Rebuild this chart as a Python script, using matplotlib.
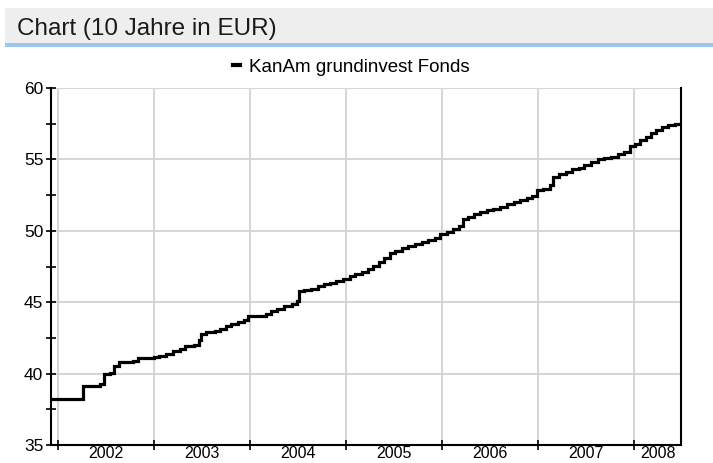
import pandas as pd
import matplotlib
matplotlib.use("Agg")
import matplotlib.pyplot as plt
from matplotlib.patches import Rectangle
from matplotlib.lines import Line2D
from matplotlib.ticker import MultipleLocator

# --- data ---
dates = [
    "2001-12-06", "2002-04-05", "2002-06-10", "2002-06-25", "2002-07-20", "2002-08-01",
    "2002-08-20", "2002-10-15", "2002-11-01", "2003-01-01", "2003-01-20", "2003-02-15",
    "2003-03-15", "2003-04-10", "2003-05-01", "2003-06-01", "2003-06-20", "2003-07-01",
    "2003-07-20", "2003-08-20", "2003-09-10", "2003-10-01", "2003-10-20", "2003-11-15",
    "2003-12-10", "2003-12-25", "2004-01-15", "2004-03-01", "2004-03-20", "2004-04-15",
    "2004-05-10", "2004-06-10", "2004-06-28", "2004-07-05", "2004-07-25", "2004-08-20",
    "2004-09-15", "2004-10-10", "2004-11-01", "2004-11-25", "2004-12-20", "2005-01-15",
    "2005-02-05", "2005-03-01", "2005-03-25", "2005-04-15", "2005-05-05", "2005-05-25",
    "2005-06-15", "2005-07-05", "2005-08-01", "2005-08-25", "2005-09-20", "2005-10-15",
    "2005-11-10", "2005-12-05", "2005-12-25", "2006-01-20", "2006-02-10", "2006-03-05",
    "2006-03-20", "2006-04-10", "2006-05-01", "2006-05-25", "2006-06-20", "2006-07-15",
    "2006-08-10", "2006-09-05", "2006-09-30", "2006-10-25", "2006-11-20", "2006-12-10",
    "2006-12-28", "2007-01-20", "2007-02-15", "2007-02-28", "2007-03-20", "2007-04-15",
    "2007-05-10", "2007-06-05", "2007-06-25", "2007-07-20", "2007-08-15", "2007-09-10",
    "2007-10-05", "2007-10-30", "2007-11-25", "2007-12-15", "2008-01-05", "2008-01-25",
    "2008-02-15", "2008-03-05", "2008-03-25", "2008-04-15", "2008-05-10", "2008-06-05",
    "2008-06-27",
]
values = [
    38.25, 39.10, 39.25, 40.00, 40.05, 40.55,
    40.80, 40.90, 41.10, 41.15, 41.25, 41.40,
    41.55, 41.75, 41.90, 42.00, 42.35, 42.80,
    42.90, 43.00, 43.10, 43.30, 43.45, 43.60,
    43.75, 44.00, 44.05, 44.20, 44.40, 44.55,
    44.70, 44.90, 45.10, 45.75, 45.85, 45.95,
    46.10, 46.25, 46.35, 46.50, 46.65, 46.80,
    47.00, 47.10, 47.30, 47.55, 47.85, 48.10,
    48.45, 48.60, 48.80, 48.95, 49.10, 49.20,
    49.35, 49.50, 49.75, 49.95, 50.15, 50.35,
    50.85, 51.00, 51.15, 51.30, 51.45, 51.55,
    51.70, 51.85, 52.00, 52.15, 52.30, 52.45,
    52.85, 52.95, 53.20, 53.80, 54.00, 54.10,
    54.30, 54.40, 54.60, 54.80, 55.00, 55.10,
    55.20, 55.40, 55.55, 55.95, 56.10, 56.35,
    56.60, 56.85, 57.05, 57.25, 57.40, 57.47,
    57.47,
]
years = [2002, 2003, 2004, 2005, 2006, 2007, 2008]
series_name = "KanAm grundinvest Fonds"
title = "Chart (10 Jahre in EUR)"

x = pd.to_datetime(dates)
xmin, xmax = x[0], x[-1]

plt.rcParams["font.family"] = ["Liberation Sans", "DejaVu Sans"]

fig = plt.figure(figsize=(7.13, 4.63), dpi=100)

# --- header bar ---
fig.patches.append(Rectangle((5 / 713, 1 - 43 / 463), 1, 35 / 463, transform=fig.transFigure,
                             facecolor="#eeeeee", edgecolor="none", zorder=0))
fig.patches.append(Rectangle((5 / 713, 1 - 46.5 / 463), 1, 3.5 / 463, transform=fig.transFigure,
                             facecolor="#9cc8ee", edgecolor="none", zorder=0))
fig.text(17 / 713, 1 - 35 / 463, title, fontsize=17.5, color="#1a1a1a", va="baseline", ha="left")

ax = fig.add_axes([51 / 713, 1 - 445 / 463, 630 / 713, 357 / 463])
ax.plot(x, values, color="black", lw=2.3, drawstyle="steps-post", solid_joinstyle="miter")

ax.set_xlim(xmin, xmax)
ax.set_ylim(35, 60)

# y axis
ax.yaxis.set_major_locator(MultipleLocator(5))
ax.yaxis.set_minor_locator(MultipleLocator(2.5))
ax.tick_params(axis="y", which="both", direction="inout", length=7, width=1.2,
               labelsize=12.5, pad=2, colors="black")

# x axis: ticks at year boundaries, labels in the middle of each visible year
bounds = [pd.Timestamp(f"{y}-01-01") for y in years]
centers = []
for y in years:
    a = max(pd.Timestamp(f"{y}-01-01"), xmin)
    b = min(pd.Timestamp(f"{y + 1}-01-01"), xmax)
    centers.append(a + (b - a) / 2)
ax.set_xticks(bounds)
ax.set_xticklabels([])
ax.set_xticks(centers, minor=True)
ax.set_xticklabels([str(y) for y in years], minor=True)
ax.tick_params(axis="x", which="major", direction="inout", length=7, width=1.2)
ax.tick_params(axis="x", which="minor", length=0, labelsize=11.5, pad=1)

ax.grid(True, which="major", color="#d6d6d6", lw=1.5)
ax.set_axisbelow(True)
for s in ["left", "bottom", "right"]:
    ax.spines[s].set_linewidth(1.5)
ax.spines["top"].set_visible(False)

# legend above the plot
handle = Line2D([], [], color="black", lw=3)
ax.legend([handle], [series_name], loc="center", bbox_to_anchor=(0.477, 1 + 21 / 357),
          frameon=False, handlelength=0.35, handletextpad=0.5, fontsize=13.5)

plt.savefig("out.png", dpi=100)
plt.close()
